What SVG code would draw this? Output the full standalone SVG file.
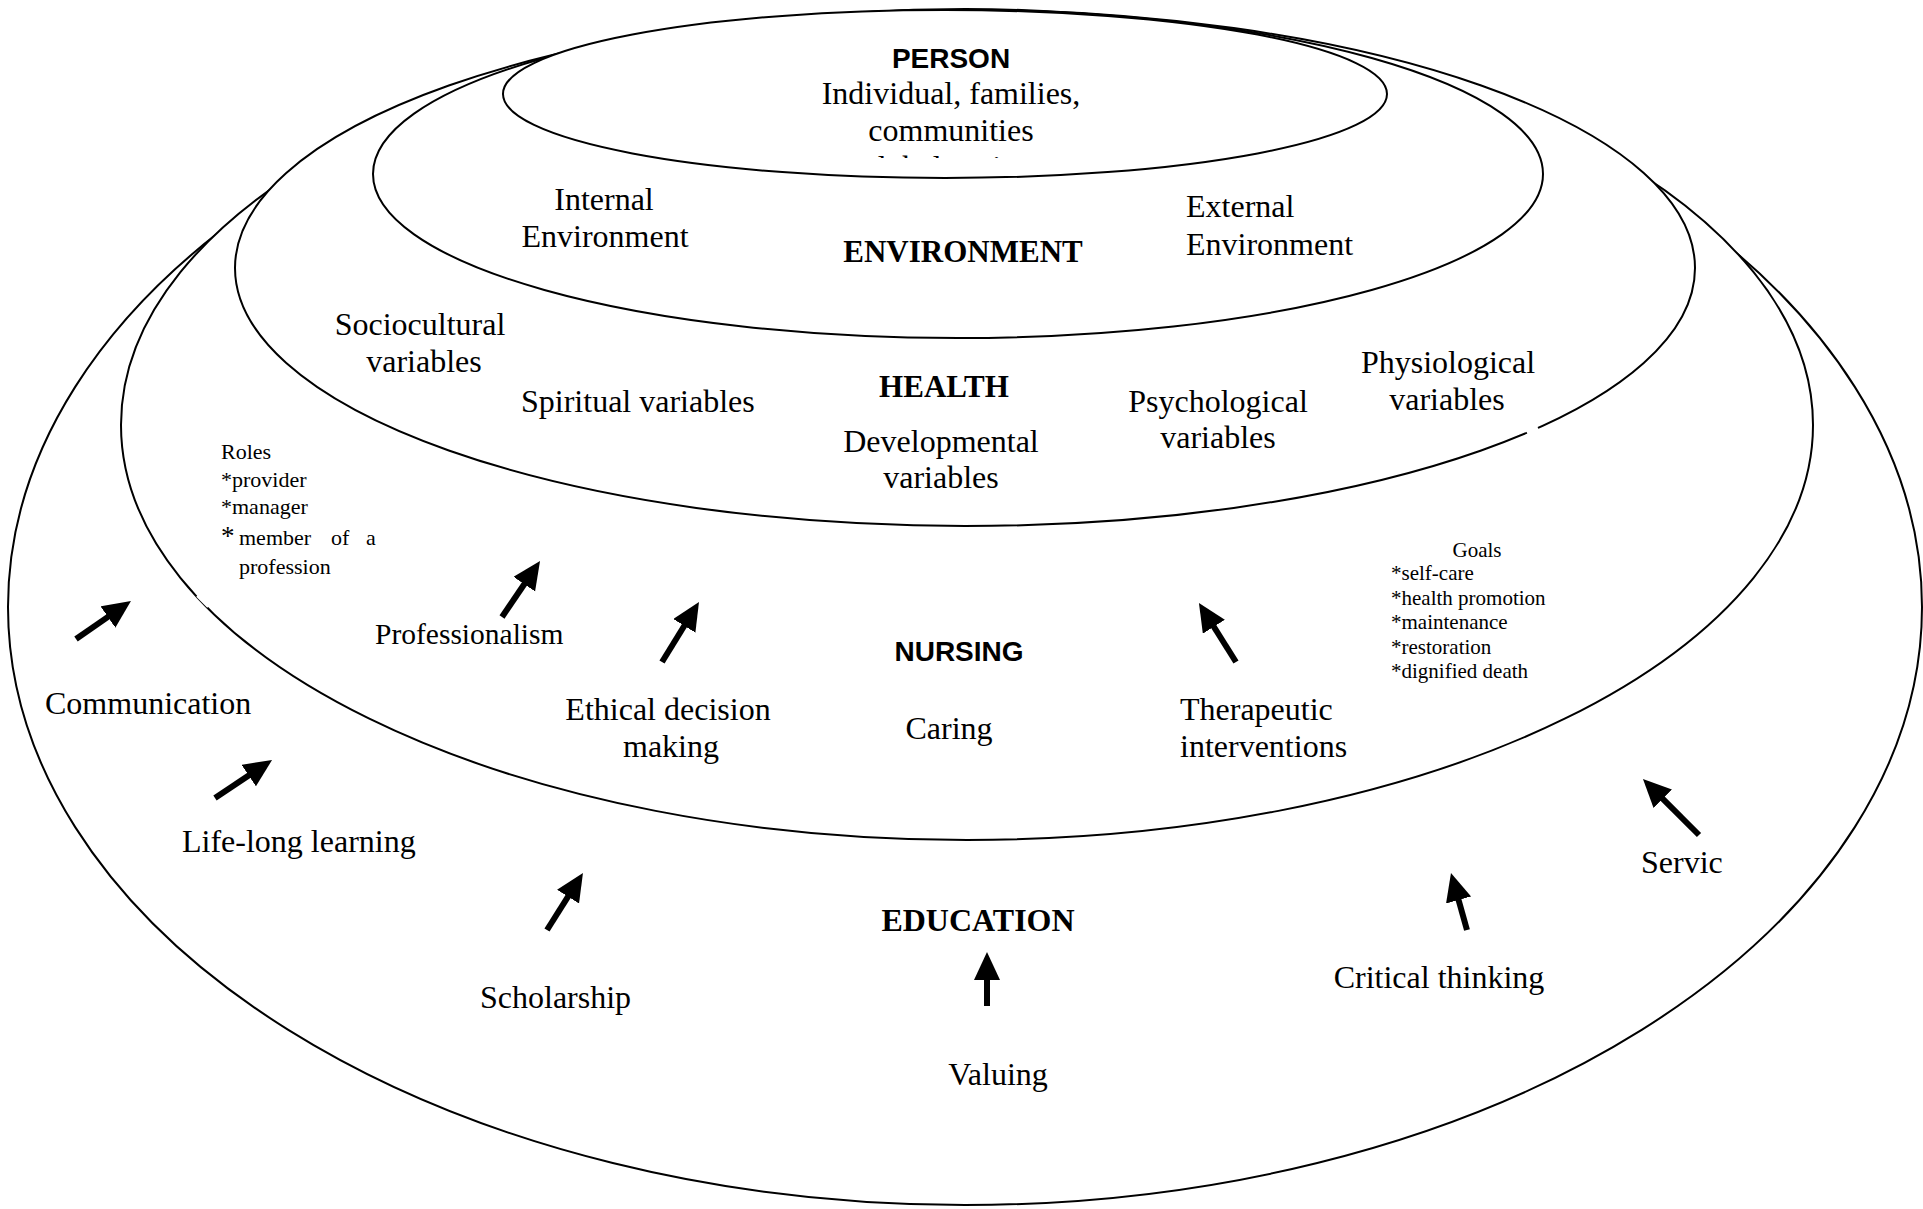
<svg xmlns="http://www.w3.org/2000/svg" width="1923" height="1209" viewBox="0 0 1923 1209">
  <style>
    .ring { fill: #ffffff; stroke: #000000; stroke-width: 2; }
    .t { font-family: "Liberation Serif", "Times New Roman", serif; font-size: 32px; fill: #000000; }
    .c { text-anchor: middle; }
    .hb { font-family: "Liberation Serif", "Times New Roman", serif; font-weight: bold; font-size: 31px; fill: #000000; text-anchor: middle; }
    .sb { font-family: "Liberation Sans", Arial, sans-serif; font-weight: bold; font-size: 28px; fill: #000000; text-anchor: middle; }
    .small { font-family: "Liberation Serif", "Times New Roman", serif; font-size: 22px; fill: #000000; }
    .goal { font-family: "Liberation Serif", "Times New Roman", serif; font-size: 21px; fill: #000000; }
    .arrow { stroke: #000000; stroke-width: 6; fill: none; marker-end: url(#head); }
    .gap { stroke: #ffffff; stroke-width: 5; }
  </style>
  <defs>
    <marker id="head" markerUnits="userSpaceOnUse" markerWidth="30" markerHeight="28" refX="8" refY="13" orient="auto" viewBox="0 0 30 28">
      <path d="M0,0 L28,13 L0,26 Z" fill="#000000"/>
    </marker>
    <clipPath id="cut">
      <rect x="800" y="140" width="300" height="18"/>
    </clipPath>
  </defs>

  <rect width="1923" height="1209" fill="#ffffff"/>

  <!-- outer ring: education -->
  <g id="education">
    <ellipse class="ring" cx="965" cy="607" rx="957" ry="598"/>
    <text class="t" x="45" y="714">Communication</text>
    <text class="t" x="182" y="852">Life-long learning</text>
    <text class="t" x="480" y="1008">Scholarship</text>
    <text class="hb" x="978" y="931" style="font-size:32px">EDUCATION</text>
    <text class="t c" x="998" y="1085">Valuing</text>
    <text class="t c" x="1439" y="988">Critical thinking</text>
    <text class="t" x="1641" y="873">Servic</text>
  </g>

  <!-- nursing ring -->
  <g id="nursing">
    <ellipse class="ring" cx="967" cy="425" rx="846" ry="415"/>
    <line class="gap" x1="198" y1="595" x2="209" y2="606"/>
    <text class="small" x="221" y="459">Roles</text>
    <text class="small" x="221" y="487">*provider</text>
    <text class="small" x="221" y="514">*manager</text>
    <text class="small" x="221" y="545"><tspan style="font-size:27px">*</tspan><tspan x="239">member</tspan><tspan x="331">of</tspan><tspan x="366">a</tspan></text>
    <text class="small" x="239" y="574">profession</text>
    <text class="t" x="375" y="644" style="font-size:29.5px">Professionalism</text>
    <text class="sb" x="959" y="661">NURSING</text>
    <text class="t c" x="949" y="739">Caring</text>
    <text class="t c" x="668" y="720">Ethical decision</text>
    <text class="t c" x="671" y="757">making</text>
    <text class="t" x="1180" y="720">Therapeutic</text>
    <text class="t" x="1180" y="757">interventions</text>
    <text class="goal c" x="1477" y="557">Goals</text>
    <text class="goal" x="1391" y="580">*self-care</text>
    <text class="goal" x="1391" y="605">*health promotion</text>
    <text class="goal" x="1391" y="629">*maintenance</text>
    <text class="goal" x="1391" y="654">*restoration</text>
    <text class="goal" x="1391" y="678">*dignified death</text>
  </g>

  <!-- health ring -->
  <g id="health">
    <ellipse class="ring" cx="965" cy="268" rx="730" ry="258"/>
    <line class="gap" x1="1538" y1="428" x2="1527" y2="433"/>
    <text class="t c" x="420" y="335">Sociocultural</text>
    <text class="t c" x="424" y="372">variables</text>
    <text class="t" x="521" y="412">Spiritual variables</text>
    <text class="hb" x="944" y="397">HEALTH</text>
    <text class="t c" x="941" y="452">Developmental</text>
    <text class="t c" x="941" y="488">variables</text>
    <text class="t c" x="1218" y="412">Psychological</text>
    <text class="t c" x="1218" y="448">variables</text>
    <text class="t c" x="1448" y="373">Physiological</text>
    <text class="t c" x="1447" y="410">variables</text>
  </g>

  <!-- environment ring -->
  <g id="environment">
    <ellipse class="ring" cx="958" cy="174" rx="585" ry="164"/>
    <text class="t c" x="604" y="210">Internal</text>
    <text class="t c" x="605" y="247">Environment</text>
    <text class="hb" x="963" y="262">ENVIRONMENT</text>
    <text class="t" x="1186" y="217">External</text>
    <text class="t" x="1186" y="255">Environment</text>
  </g>

  <!-- innermost: person -->
  <g id="person">
    <ellipse class="ring" cx="945" cy="94" rx="442" ry="84"/>
    <text class="sb" x="951" y="68">PERSON</text>
    <text class="t c" x="951" y="104">Individual, families,</text>
    <text class="t c" x="951" y="141">communities</text>
    <text class="t c" x="951" y="178" clip-path="url(#cut)">global society</text>
  </g>

  <!-- arrows -->
  <g id="connectors">
    <path class="arrow" d="M76,639 L114.5,612.4"/>
    <path class="arrow" d="M215,798 L255.4,771.1"/>
    <path class="arrow" d="M502,617 L528.8,577.5"/>
    <path class="arrow" d="M662,662 L688.5,619"/>
    <path class="arrow" d="M1236,662 L1209.6,620"/>
    <path class="arrow" d="M1699,835 L1657.1,793.1"/>
    <path class="arrow" d="M547,930 L572.3,889.9"/>
    <path class="arrow" d="M987,1006 L987,972"/>
    <path class="arrow" d="M1467,930 L1456.4,892.3"/>
  </g>
</svg>
